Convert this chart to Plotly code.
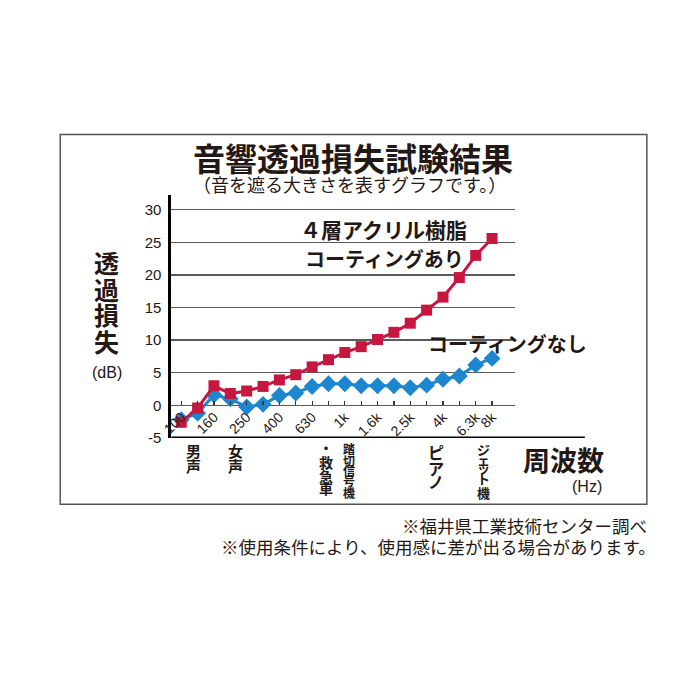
import plotly.graph_objects as go

# ---- data ----
freq_labels = ["100", "125", "160", "200", "250", "315", "400", "500", "630", "800",
               "1k", "1.25k", "1.6k", "2k", "2.5k", "3.15k", "4k", "5k", "6.3k", "8k"]
shown_labels = ["100", "160", "250", "400", "630", "1k", "1.6k", "2.5k", "4k", "6.3k", "8k"]
coated = [-2.6, -0.4, 3.0, 1.8, 2.2, 2.9, 3.9, 4.7, 5.9, 7.0,
          8.1, 9.0, 10.1, 11.2, 12.6, 14.6, 16.6, 19.6, 23.0, 25.6]
uncoated = [-2.2, -1.2, 1.6, 1.0, -0.25, 0.15, 1.5, 1.9, 2.9, 3.3,
            3.3, 3.0, 3.0, 3.0, 2.7, 3.1, 4.0, 4.5, 6.2, 7.2]
y_ticks = [-5, 0, 5, 10, 15, 20, 25, 30]

# ---- layout constants (pixels in a 700x700 page) ----
W = H = 700
PX0, PX1, PY_TOP, PY_BOT = 163, 512, 197, 443
Y_RANGE = [-5, 32.3]
X_RANGE = [-0.6, 20.4]
JP = "Noto Sans CJK JP"
NUM = "Liberation Sans, Noto Sans CJK JP"
INK = "#231815"
RED = "#c5173f"
BLUE = "#1c86cf"


def fx(x):
    return x / W


def fy(y):
    return 1 - y / H


xdom = [fx(PX0), fx(PX1)]
ydom = [fy(PY_BOT), fy(PY_TOP)]
zero_pos = ydom[0] + (0 - Y_RANGE[0]) / (Y_RANGE[1] - Y_RANGE[0]) * (ydom[1] - ydom[0])

fig = go.Figure()
fig.add_trace(go.Scatter(
    x=freq_labels, y=uncoated, mode="lines+markers",
    line=dict(color=BLUE, width=3),
    marker=dict(symbol="diamond", size=13, color=BLUE),
    showlegend=False, hoverinfo="skip"))
fig.add_trace(go.Scatter(
    x=freq_labels, y=coated, mode="lines+markers",
    line=dict(color=RED, width=3),
    marker=dict(symbol="square", size=11, color=RED),
    showlegend=False, hoverinfo="skip"))


def txt(s, x, y, size, bold=False, xanchor="center", yanchor="middle", family=JP, color=INK):
    return dict(text=s, x=fx(x), y=fy(y), xref="paper", yref="paper",
                showarrow=False, xanchor=xanchor, yanchor=yanchor,
                font=dict(size=size, family=family, color=color,
                          weight=700 if bold else 400))


def vtext(s, x, ys, size, bold=True):
    return [txt(ch, x, y, size, bold) for ch, y in zip(s, ys)]


annotations = []
annotations.append(txt("音響透過損失試験結果", 347, 159, 32, True))
annotations.append(txt("（音を遮る大きさを表すグラフです。）", 344, 186, 18))
annotations += vtext("透過損失", 97, [265, 292, 318, 345], 25)
annotations.append(txt("(dB)", 98, 377, 16, family=NUM))
annotations.append(txt("４層アクリル樹脂", 378, 232, 21, True))
annotations.append(txt("コーティングあり", 379, 261, 20, True))
annotations.append(txt("コーティングなし", 504, 347, 20, True))
annotations += vtext("男声", 185, [456, 471], 15)
annotations += vtext("女声", 228, [456, 471], 15)
annotations += vtext("・救急車", 320, [452, 467, 481, 494], 14)
annotations += vtext("踏切信号機", 343, [454, 466, 476, 486, 498], 12)
annotations += vtext("ピアノ", 432, [457, 473, 487], 16)
annotations += vtext("ジェット機", 480, [455, 465, 473, 484, 498], 13)
annotations.append(txt("周波数", 561, 465, 27, True))
annotations.append(txt("(Hz)", 585, 492, 16, family=NUM))
annotations.append(txt("※福井県工業技術センター調べ", 648, 532, 17.5, xanchor="right"))
annotations.append(txt("※使用条件により、使用感に差が出る場合があります。", 657, 553, 17.5, xanchor="right"))

shapes = [
    # outer frame
    dict(type="rect", xref="paper", yref="paper", x0=fx(50), x1=fx(646),
         y0=fy(510), y1=fy(136), line=dict(color="#555555", width=1.5)),
    # bottom baseline extending under the 周波数 label
    dict(type="line", xref="paper", yref="y", x0=xdom[0], x1=fx(583),
         y0=Y_RANGE[0], y1=Y_RANGE[0], line=dict(color="black", width=3)),
]

fig.update_layout(
    width=W, height=H, margin=dict(l=0, r=0, t=0, b=0),
    paper_bgcolor="white", plot_bgcolor="white",
    showlegend=False,
    annotations=annotations, shapes=shapes,
    xaxis=dict(
        type="category", domain=xdom, range=X_RANGE,
        anchor="free", position=zero_pos,
        categoryorder="array", categoryarray=freq_labels,
        tickvals=freq_labels,
        ticktext=[l if l in shown_labels else "" for l in freq_labels],
        tickangle=-45, ticks="inside", ticklen=4, tickwidth=1.2, tickcolor="#333333",
        tickfont=dict(size=14, family=NUM, color=INK),
        showgrid=False, zeroline=False, showline=False,
    ),
    yaxis=dict(
        domain=ydom, range=Y_RANGE,
        tickvals=y_ticks, ticktext=[str(v) for v in y_ticks],
        tickfont=dict(size=15, family=NUM, color=INK),
        ticks="", ticklabelstandoff=4,
        showgrid=True, gridcolor="#5a5a5a", gridwidth=1.5,
        zeroline=False, showline=True, linecolor="black", linewidth=3,
    ),
)

fig.write_html("out.html", config={"displayModeBar": False, "staticPlot": True},
               post_script="document.body.style.margin='0';")
